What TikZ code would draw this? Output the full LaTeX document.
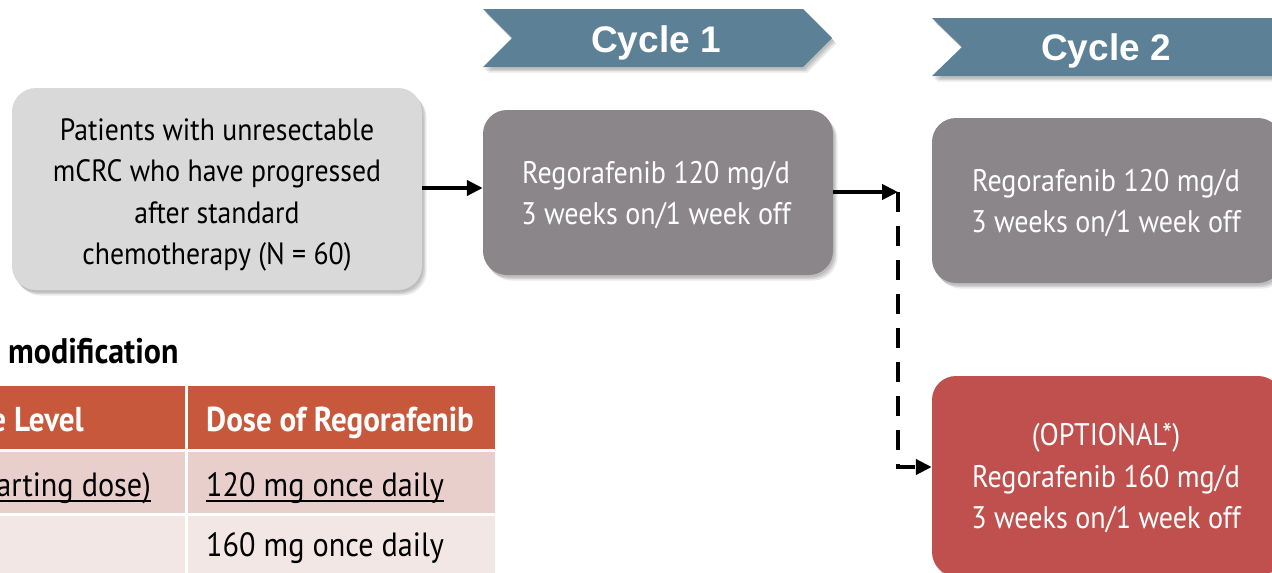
\documentclass[tikz,border=0pt]{standalone}
\usepackage{fontspec}
\setmainfont{PT Sans}[FakeStretch=0.9]
\newfontfamily\bannerfont{Liberation Sans}
\usetikzlibrary{shadows,arrows.meta}

\definecolor{lightbox}{HTML}{D9D9D9}
\definecolor{greybox}{HTML}{8B8689}
\definecolor{redbox}{HTML}{C0504D}
\definecolor{banner}{HTML}{5C8197}
\definecolor{headrow}{HTML}{C8583C}
\definecolor{rowa}{HTML}{E9CFCC}
\definecolor{rowb}{HTML}{F3E7E5}

% underline that runs through the descenders
\newcommand\ultext[1]{\setbox0\hbox{#1}\rlap{\rule[-5.5pt]{\wd0}{1.6pt}}\box0}

\tikzset{
  softshadow/.style={
    drop shadow={shadow xshift=1.5pt,shadow yshift=-2.5pt,opacity=0.10,fill=black},
    drop shadow={shadow xshift=3pt,shadow yshift=-4pt,opacity=0.10,fill=black},
    drop shadow={shadow xshift=4.5pt,shadow yshift=-5.5pt,opacity=0.08,fill=black}},
  roundbox/.style={rounded corners=24pt,softshadow,inner sep=0pt},
  boxtext/.style={align=center,inner sep=0pt,font=\fontsize{31.2}{41}\selectfont,text=white},
  bannertext/.style={font=\bannerfont\bfseries\fontsize{37}{40}\selectfont,text=white,inner sep=0pt},
  flow/.style={line width=4pt,-{Triangle[length=16pt,width=15pt]}},
  cell/.style={font=\fontsize{33.6}{38}\selectfont,anchor=base west,inner sep=0pt},
  headcell/.style={font=\bfseries\fontsize{34.5}{38}\selectfont,text=white,anchor=base west,inner sep=0pt},
}

\begin{document}
\begin{tikzpicture}[x=1pt,y=-1pt]
\useasboundingbox (0,0) rectangle (1272,573);

% cycle banners
\fill[banner,softshadow] (483,9) -- (803,9) -- (832,38) -- (803,67) -- (483,67) -- (512,38) -- cycle;
\node[bannertext] (cyc1) at (656,43) {Cycle 1};
\fill[banner,softshadow] (932,18) -- (1278,18) -- (1307,47) -- (1278,76) -- (932,76) -- (962,47) -- cycle;
\node[bannertext] (cyc2) at (1106,51) {Cycle 2};

% treatment boxes
\node[roundbox,fill=lightbox,minimum width=410pt,minimum height=202pt] (pts) at (217,189) {};
\node[boxtext,text=black,font=\fontsize{30.8}{41.3}\selectfont] (ptstext) at (217,195)
  {Patients with unresectable\\mCRC who have progressed\\after standard\\chemotherapy (N = 60)};

\node[roundbox,fill=greybox,minimum width=350pt,minimum height=165pt] (c1) at (658,192.5) {};
\node[boxtext] (c1text) at (656,195.5) {Regorafenib 120 mg/d\\3 weeks on/1 week off};

\node[roundbox,fill=greybox,minimum width=350pt,minimum height=165pt] (c2) at (1107,200.5) {};
\node[boxtext] (c2text) at (1106,203) {Regorafenib 120 mg/d\\3 weeks on/1 week off};

\node[roundbox,fill=redbox,minimum width=350pt,minimum height=200pt] (opt) at (1107,476) {};
\node[boxtext,font=\fontsize{31.2}{41.5}\selectfont] (opttext) at (1106,478.5)
  {(OPTIONAL*)\\Regorafenib 160 mg/d\\3 weeks on/1 week off};

% connectors
\draw[flow] (pts.east |- 0,188) -- (c1.west |- 0,188);
\coordinate (turn) at (898,192);
\draw[flow] (c1.east |- turn) -- (turn);
\draw[flow,dash pattern=on 20pt off 14pt] (turn) |- (opt.west |- 0,467);

% dose modification table
\node[font=\bfseries\fontsize{35.5}{38}\selectfont,anchor=base west,inner sep=0pt] (tt) at (8,363) {modification};
\fill[headrow] (0,386) rectangle (185,449);
\fill[headrow] (188,386) rectangle (495,449);
\fill[rowa] (0,452) rectangle (185,513);
\fill[rowa] (188,452) rectangle (495,513);
\fill[rowb] (0,516) rectangle (185,573);
\fill[rowb] (188,516) rectangle (495,573);
\node[headcell,anchor=base east] (h1) at (84,431.5) {e Level};
\node[headcell] (h2) at (206,431.5) {Dose of Regorafenib};
\node[cell,anchor=base east] (r1a) at (151,496.5) {\ultext{arting dose)}};
\node[cell] (r1b) at (206,496.5) {\ultext{120 mg once daily}};
\node[cell] (r2b) at (206,556.5) {160 mg once daily};
\end{tikzpicture}
\end{document}
